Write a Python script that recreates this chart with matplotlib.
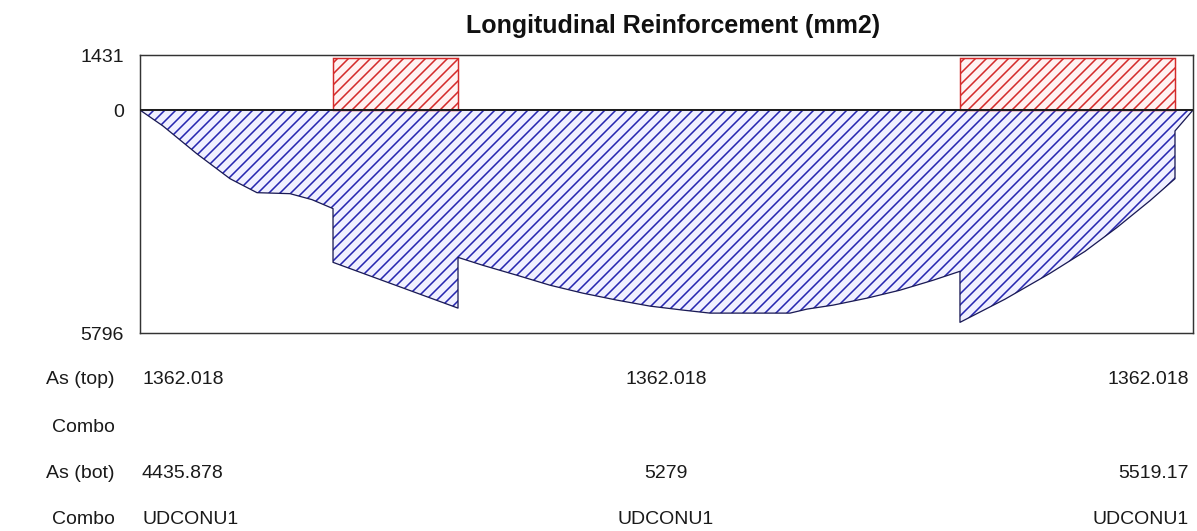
import matplotlib
matplotlib.use("Agg")
import matplotlib.pyplot as plt

# Station along the member, as a fraction of the clear span
station = [0.0, 0.0218, 0.0541, 0.0855, 0.1111, 0.1425, 0.1633, 0.1833, 0.1833,
           0.3020, 0.3020, 0.3257, 0.3580, 0.3894, 0.4207, 0.4530, 0.4843, 0.5157,
           0.5413, 0.6173, 0.6334, 0.6581, 0.6904, 0.7217, 0.7531, 0.7787, 0.7787,
           0.8215, 0.8642, 0.8974, 0.9278, 0.9592, 0.9829, 0.9829, 1.0]
# Required bottom reinforcement (mm2) at each station
as_bot = [0, 414, 1139, 1785, 2148, 2174, 2329, 2562, 3959,
          5149, 3830, 4037, 4295, 4554, 4761, 4942, 5097, 5201,
          5279, 5279, 5175, 5072, 4890, 4683, 4425, 4192, 5519.17,
          4916, 4244, 3674, 3053, 2355, 1785, 543, 0]

# Zones where top reinforcement governs (start, end) and its area (mm2)
top_zones = [(0.1833, 0.3020), (0.7787, 0.9829)]
as_top = 1362.018

# Axis limits / tick labels
y_top = 1431
y_bot = 5796

# Summary table
row_labels = ["As (top)", "Combo", "As (bot)", "Combo"]
col_left = ["1362.018", "", "4435.878", "UDCONU1"]
col_mid = ["1362.018", "", "5279", "UDCONU1"]
col_right = ["1362.018", "", "5519.17", "UDCONU1"]

DPI = 132
W, H = 1197, 531
plt.rcParams["font.family"] = ["Liberation Sans", "DejaVu Sans"]
plt.rcParams["hatch.linewidth"] = 0.85

def pt(px):
    return px * 72.0 / DPI

fig = plt.figure(figsize=(W / DPI, H / DPI), dpi=DPI)
fig.patch.set_facecolor("white")

ax = fig.add_axes([140 / W, 1 - 333 / H, (1193 - 140) / W, (333 - 55) / H])

# Bottom steel drawn downward from the zero line
neg_bot = [-v for v in as_bot]
ax.fill_between(station, 0, neg_bot, facecolor="#f0f0ff", edgecolor="#2626b0",
                hatch="////", linewidth=0, zorder=2)
ax.plot(station, neg_bot, color="#1a1a55", lw=0.7, zorder=3)

# Top steel drawn upward
for s0, s1 in top_zones:
    ax.bar(s0, as_top, width=s1 - s0, bottom=0, align="edge",
           facecolor="#fff2f2", edgecolor="#d42a2a", hatch="////",
           linewidth=0.8, zorder=2)

ax.axhline(0, color="#1e1e1e", lw=1.1, zorder=4)

ax.set_xlim(0, 1)
ax.set_ylim(-y_bot, y_top)
ax.set_xticks([])
ax.set_yticks([-y_bot, 0, y_top])
ax.set_yticklabels([str(y_bot), "0", str(y_top)])
ax.tick_params(axis="y", length=0, pad=pt(16), labelsize=pt(19.5), labelcolor="#1a1a1a")
for sp in ax.spines.values():
    sp.set_color("#333333")
    sp.set_linewidth(0.8)

fig.text(673.5 / W, 1 - 33 / H, "Longitudinal Reinforcement (mm2)",
         ha="center", va="baseline", fontsize=pt(25), fontweight="bold", color="#111111")

row_y = [380, 427, 473, 520]
fs = pt(19.5)
for i, y in enumerate(row_y):
    yy = 1 - y / H
    fig.text(115 / W, yy, row_labels[i], ha="right", va="center", fontsize=fs, color="#1a1a1a")
    fig.text(142 / W, yy, col_left[i], ha="left", va="center", fontsize=fs, color="#1a1a1a")
    fig.text(666 / W, yy, col_mid[i], ha="center", va="center", fontsize=fs, color="#1a1a1a")
    fig.text(1189 / W, yy, col_right[i], ha="right", va="center", fontsize=fs, color="#1a1a1a")

fig.savefig("out.png", dpi=DPI)
